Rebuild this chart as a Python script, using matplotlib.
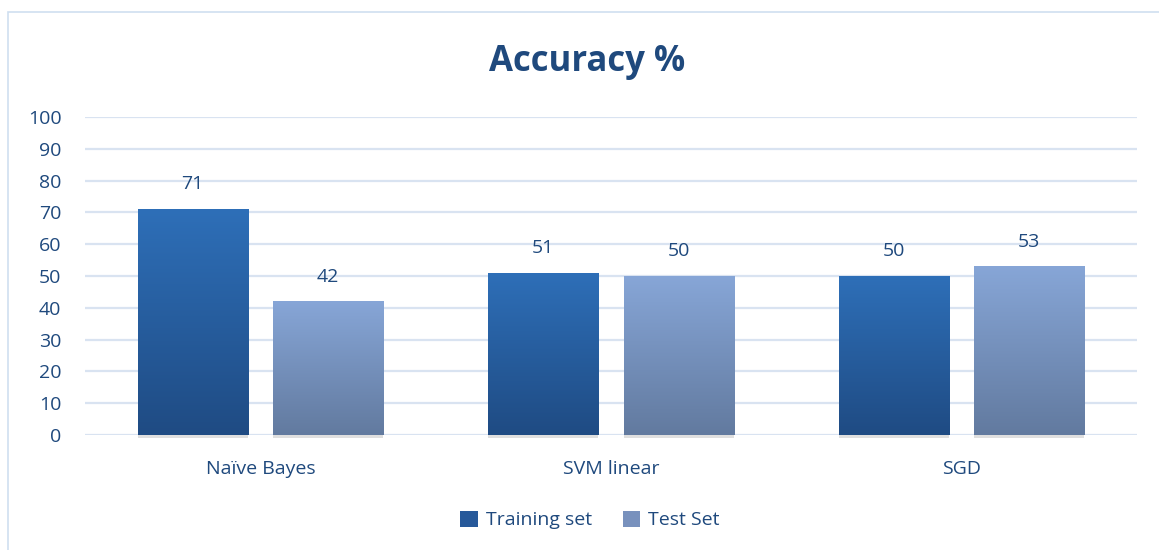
import numpy as np
import matplotlib
matplotlib.use("Agg")
import matplotlib.pyplot as plt
from matplotlib.colors import LinearSegmentedColormap
from matplotlib.patches import Rectangle

categories = ["Naïve Bayes", "SVM linear", "SGD"]
training = [71, 51, 50]
test = [42, 50, 53]
series_names = ["Training set", "Test Set"]
yticks = list(range(0, 101, 10))

TEXT = "#1f497d"
GRID = "#d9e3f1"
FONT = ["Open Sans", "DejaVu Sans"]

train_cmap = LinearSegmentedColormap.from_list("train", ["#1f4b83", "#2e6fb8"])
test_cmap = LinearSegmentedColormap.from_list("test", ["#627a9f", "#87a6d7"])

fig = plt.figure(figsize=(11.59, 5.5), dpi=100)
ax = fig.add_axes([85 / 1159, 1 - 435 / 550, 1052 / 1159, 318 / 550])

# outer chart frame
fig.add_artist(Rectangle((8 / 1159, -0.1), 1.2, 1 - 12 / 550 + 0.1,
                         transform=fig.transFigure, fill=False,
                         edgecolor="#cfdff0", linewidth=1.2))

x = np.arange(len(categories))
width = 0.314
offset = 0.193


def gradient_bars(xpos, values, cmap, label):
    bars = ax.bar(xpos, values, width, facecolor="none", edgecolor="none",
                  label=label, zorder=3)
    grad = np.linspace(0, 1, 256).reshape(-1, 1)
    for b in bars:
        x0, y0 = b.get_x(), b.get_y()
        w, h = b.get_width(), b.get_height()
        # soft shadow along the bar base
        ax.add_patch(Rectangle((x0, -0.9), w, 1.0, facecolor="#b8b8b8",
                               edgecolor="none", alpha=0.45, zorder=2,
                               clip_on=False))
        im = ax.imshow(grad, cmap=cmap, origin="lower", aspect="auto",
                       extent=[x0, x0 + w, y0, y0 + h], zorder=3)
        im.set_clip_path(b)
        ax.text(x0 + w / 2, h + 5.0, f"{h:g}", ha="center", va="bottom",
                fontsize=14, color=TEXT, family=FONT)
    return bars


gradient_bars(x - offset, training, train_cmap, series_names[0])
gradient_bars(x + offset, test, test_cmap, series_names[1])

ax.set_xlim(-0.5, 2.5)
ax.set_ylim(0, 100)
ax.set_yticks(yticks)
ax.set_xticks(x)
ax.set_xticklabels(categories)
ax.grid(axis="y", color=GRID, linewidth=1.6, zorder=0)
ax.set_axisbelow(True)
for s in ax.spines.values():
    s.set_visible(False)
ax.tick_params(axis="both", length=0, labelsize=14, labelcolor=TEXT)
ax.tick_params(axis="y", pad=17)
ax.tick_params(axis="x", pad=18)
for lbl in ax.get_xticklabels() + ax.get_yticklabels():
    lbl.set_family(FONT)

fig.text(587 / 1159, 1 - 62 / 550, "Accuracy %", ha="center", va="center",
         fontsize=25, fontweight="bold", color=TEXT, family=FONT)

handles = [Rectangle((0, 0), 1, 1, facecolor="#27599a"),
           Rectangle((0, 0), 1, 1, facecolor="#7891bd")]
fig.legend(handles, series_names, loc="center", bbox_to_anchor=(590 / 1159, 1 - 520 / 550),
           ncol=2, frameon=False, handlelength=0.9, handleheight=0.9,
           columnspacing=1.6, handletextpad=0.4,
           prop={"family": FONT, "size": 14}, labelcolor=TEXT)

fig.savefig("out.png", dpi=100, facecolor="white")
